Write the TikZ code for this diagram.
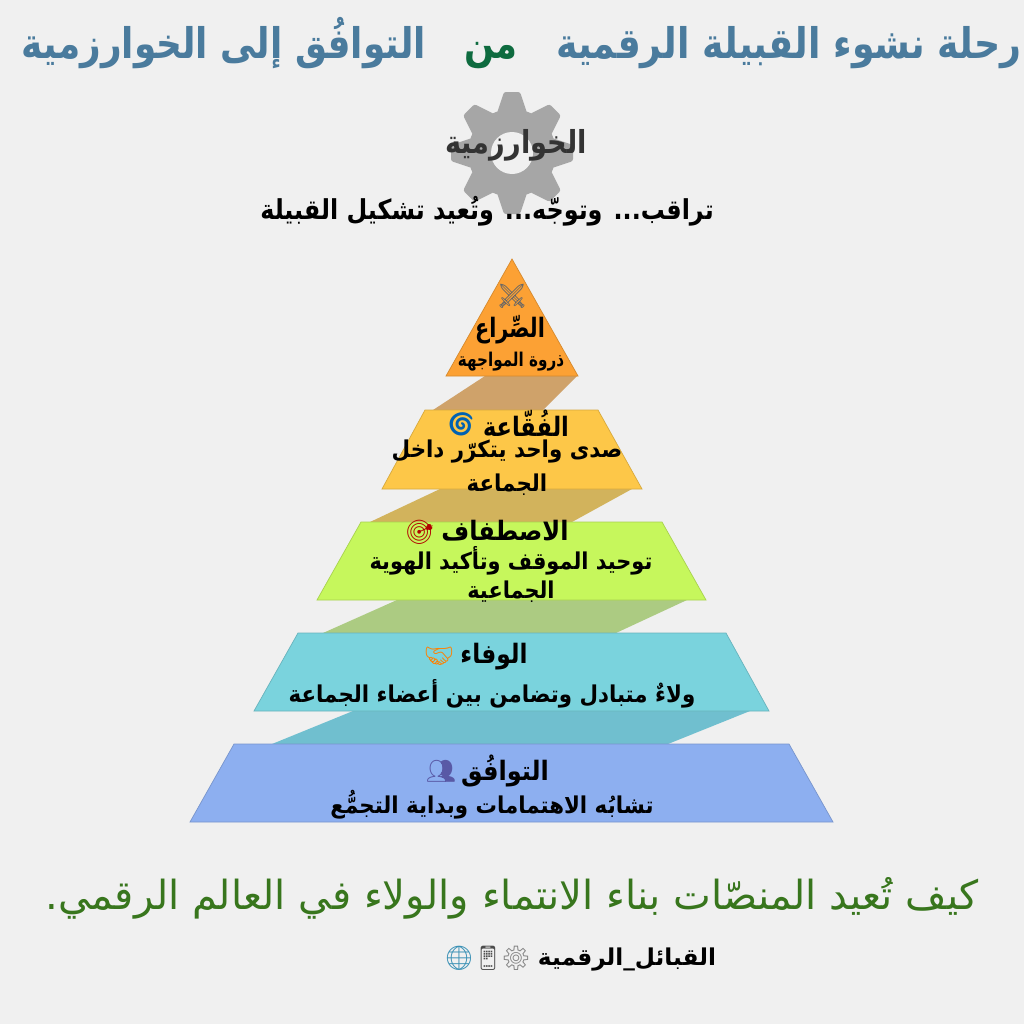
\documentclass[tikz,border=0pt]{standalone}
\usepackage{fontspec}
\newfontfamily\arfont[Script=Arabic]{DejaVu Sans}
\newfontfamily\emojifont{Noto Emoji}
\TeXXeTstate=1
\newcommand{\ar}[2][1]{\scalebox{#1}[1]{\beginR #2\endR}}
\definecolor{pagebg}{HTML}{F0F0F0}
\definecolor{titleblue}{HTML}{4A7B9D}
\definecolor{titlegreen}{HTML}{0E6B3F}
\definecolor{footgreen}{HTML}{38761D}
\definecolor{gearc}{HTML}{A6A6A6}
\definecolor{cpeak}{HTML}{FCA134}
\definecolor{cbubble}{HTML}{FDC748}
\definecolor{calign}{HTML}{C6F75C}
\definecolor{cloyal}{HTML}{7AD3DD}
\definecolor{cmatch}{HTML}{8DAFF0}
\definecolor{bandA}{HTML}{CFA26A}
\definecolor{bandB}{HTML}{D2B35C}
\definecolor{bandC}{HTML}{ACCB82}
\definecolor{bandD}{HTML}{70BFCF}
\tikzset{
  ttl/.style={inner sep=0pt,anchor=base,font=\arfont\bfseries\fontsize{12}{14}\selectfont,text=titleblue},
  head/.style={inner sep=0pt,font=\arfont\bfseries\fontsize{7.6}{9}\selectfont,text=black},
  body/.style={inner sep=0pt,font=\arfont\bfseries\fontsize{6.6}{8}\selectfont,text=black},
  emo/.style={inner sep=0pt,font=\emojifont\fontsize{6.8}{8}\selectfont},
  lvl/.style={draw=#1!85!black,line width=0.2pt,fill=#1}
}
\begin{document}
\begin{tikzpicture}[x=0.01cm,y=-0.01cm]
\fill [pagebg] (0,0) rectangle (1024,1024);
\useasboundingbox (0,0) rectangle (1024,1024);
% gear
\fill [gearc] (512,153) circle (44);
\foreach \a in {0,45,...,315}
  \fill [gearc,rotate around={\a:(512,153)},rounded corners=0.6pt] (497,113) -- (504,92) -- (520,92) -- (527,113) -- cycle;
\fill [pagebg] (512,153) circle (21);
% bands
\fill [bandA] (485,376) -- (577,376) -- (543,410) -- (433,410) -- cycle;
\fill [bandB] (440,489) -- (632,489) -- (572,522) -- (370,522) -- cycle;
\fill [bandC] (397,600) -- (687,600) -- (616,633) -- (323,633) -- cycle;
\fill [bandD] (353,711) -- (750,711) -- (668,744) -- (272,744) -- cycle;
% levels
\draw [lvl=cpeak] (512,259) -- (578,376) -- (446,376) -- cycle;
\draw [lvl=cbubble] (425,410) -- (598,410) -- (642,489) -- (382,489) -- cycle;
\draw [lvl=calign] (361,522) -- (662,522) -- (706,600) -- (317,600) -- cycle;
\draw [lvl=cloyal] (298,633) -- (726,633) -- (769,711) -- (254,711) -- cycle;
\draw [lvl=cmatch] (234,744) -- (789,744) -- (833,822) -- (190,822) -- cycle;
% title
\node [ttl] (t0) at (789,58) {\ar[.86]{رحلة نشوء القبيلة الرقمية}};
\node [ttl,text=titlegreen] (t1) at (491,58) {\ar[.84]{من}};
\node [ttl] (t2) at (224,58) {\ar[.85]{التوافُق إلى الخوارزمية}};
\node [head,font=\arfont\bfseries\fontsize{9}{10}\selectfont,text=black!80] (g0) at (516,145) {\ar[.86]{الخوارزمية}};
\node [inner sep=0pt,font=\arfont\bfseries\fontsize{7.8}{9}\selectfont] (g1) at (487,211) {\ar[.87]{تراقب... وتوجّه... وتُعيد تشكيل القبيلة}};
% peak
\node [emo,text=black!60] (e0) at (512,296) {\char"2694};
\node [head] (n0) at (510,330) {\ar[.78]{الصِّراع}};
\node [body,font=\arfont\bfseries\fontsize{5.4}{6}\selectfont] (m0) at (511,362) {\ar[.8]{ذروة المواجهة}};
% bubble
\node [emo,text=blue!45!cyan!70!black] (e1) at (461,424) {\char"1F300};
\node [head] (n1) at (526,423) {\ar[.84]{الفُقّاعة}};
\node [body] (m1) at (507,452) {\ar[.92]{صدى واحد يتكرّر داخل}};
\node [body] (m1b) at (507,485) {\ar[.92]{الجماعة}};
% align
\node [emo,text=red!70!black] (e2) at (420,532) {\char"1F3AF};
\node [head] (n2) at (505,531) {\ar[.9]{الاصطفاف}};
\node [body] (m2) at (511,561) {\ar[.9]{توحيد الموقف وتأكيد الهوية}};
\node [body] (m2b) at (511,592) {\ar[.9]{الجماعية}};
% loyal
\node [emo,text=orange] (e3) at (439,656) {\char"1F91D};
\node [head] (n3) at (494,657) {\ar[.87]{الوفاء}};
\node [body] (m3) at (492,694) {\ar[.92]{ولاءٌ متبادل وتضامن بين أعضاء الجماعة}};
% match
\node [emo,text=blue!30!gray] (e4) at (441,771) {\char"1F465};
\node [head] (n4) at (505,771) {\ar[.9]{التوافُق}};
\node [body] (m4) at (492,805) {\ar[.92]{تشابُه الاهتمامات وبداية التجمُّع}};
% footer
\node [inner sep=0pt,font=\arfont\fontsize{11.4}{13}\selectfont,text=footgreen] (f0) at (512,898) {\ar{كيف تُعيد المنصّات بناء الانتماء والولاء في العالم الرقمي.}};
\node [body] (f1) at (627,960) {\ar{القبائل\_الرقمية}};
\node [emo,text=gray] (e5) at (516,958) {\char"2699};
\node [emo,text=black!70] (e6) at (488,958) {\char"1F4F1};
\node [emo,text=cyan!70!black] (e7) at (459,958) {\char"1F310};
\end{tikzpicture}
\end{document}
